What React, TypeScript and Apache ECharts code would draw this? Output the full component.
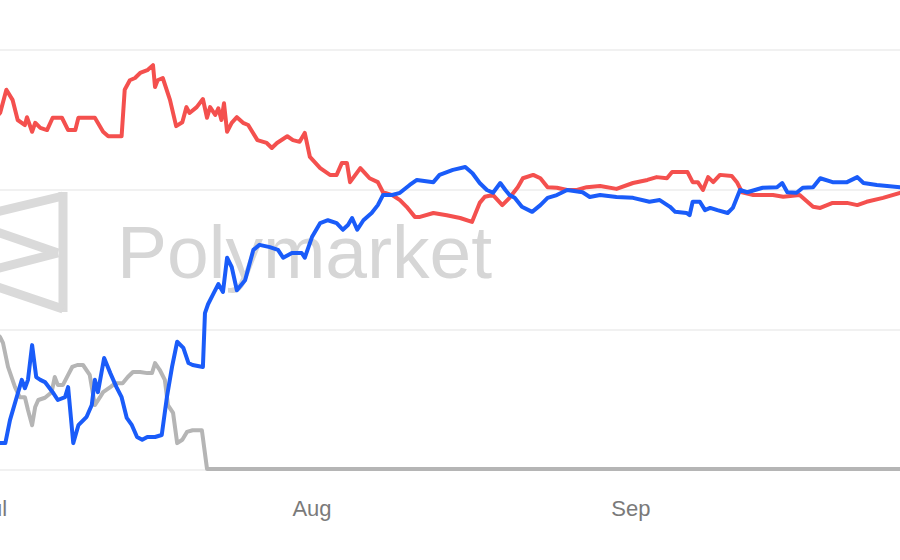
import React, { useEffect, useRef } from "react";
import * as echarts from "echarts";

// x = days since Jul 1, y = chance in %
const MONTH_LABELS = ["Jul", "Aug", "Sep"];
const MONTH_STARTS = [0, 31, 62];
const Y_TICKS = [0, 25, 50, 75, 100];

const TRUMP: [number, number][] = [
  [0, 62.3], [0.7, 63.8], [1.3, 67.9], [1.9, 66.1], [2.4, 62.5], [3.1, 61.6], [3.3, 63.0], [3.8, 60.4],
  [4.1, 62.0], [4.6, 61.1], [5.25, 60.7], [5.8, 62.9], [6.7, 62.9], [7.3, 60.7], [8.0, 60.7], [8.3, 62.9],
  [9.9, 62.9], [10.7, 60.4], [11.2, 59.6], [12.5, 59.6], [12.8, 67.9], [13.3, 69.6], [13.8, 70.0],
  [14.3, 70.9], [15.0, 71.4], [15.55, 72.3], [15.75, 68.4], [16.0, 69.6], [16.5, 70.0], [17.2, 66.1],
  [17.8, 61.4], [18.4, 62.1], [18.8, 64.8], [19.1, 63.75], [19.8, 64.8], [20.4, 66.25], [20.8, 62.9],
  [21.1, 64.8], [21.6, 63.4], [21.9, 64.6], [22.2, 62.5], [22.45, 65.5], [22.75, 60.4], [23.2, 62.0],
  [23.7, 63.0], [24.3, 62.0], [24.8, 61.6], [25.7, 58.9], [26.6, 58.4], [27.1, 57.5], [27.6, 58.4],
  [28.6, 59.6], [29.15, 58.9], [29.8, 58.6], [30.3, 60.2], [30.8, 55.9], [31.8, 53.9], [32.75, 52.7],
  [33.4, 52.7], [33.9, 54.8], [34.4, 54.8], [34.7, 51.4], [35.7, 53.9], [36.15, 53.0], [36.6, 52.1],
  [37.4, 51.4], [37.9, 49.6], [38.8, 49.1], [39.55, 48.2], [40.2, 47.0], [41.0, 45.2], [41.5, 45.2],
  [42.8, 45.9], [44.1, 45.5], [45.4, 45.0], [46.55, 44.3], [47.3, 47.7], [47.8, 48.8], [48.6, 49.1],
  [49.5, 47.3], [50.2, 48.6], [51.0, 50.5], [51.5, 52.1], [52.5, 52.7], [53.2, 52.1], [53.9, 50.5],
  [54.8, 50.4], [55.8, 50.0], [56.75, 50.0], [57.7, 50.5], [59.0, 50.7], [60.6, 50.2], [62.2, 51.25],
  [63.6, 51.8], [64.5, 52.3], [65.5, 52.1], [66.0, 53.2], [67.5, 53.2], [68.0, 51.4], [68.5, 51.4],
  [69.0, 50.0], [69.5, 52.3], [70.0, 51.4], [70.65, 52.7], [71.8, 52.5], [72.3, 51.4], [72.8, 49.6],
  [73.9, 49.1], [75.8, 49.1], [76.8, 48.8], [78.4, 49.1], [79.7, 47.0], [80.4, 46.8], [81.6, 47.7],
  [83.0, 47.7], [84.0, 47.3], [84.9, 47.9], [86.5, 48.6], [88.15, 49.5],
];

const HARRIS: [number, number][] = [
  [0, 4.8], [0.7, 4.8], [1.2, 4.8], [1.65, 8.9], [2.3, 13.0], [2.8, 16.1], [3.1, 14.6], [3.4, 16.1],
  [3.8, 22.3], [4.2, 16.6], [4.6, 16.1], [5.05, 15.7], [5.8, 13.9], [6.3, 12.5], [7.0, 13.0], [7.3, 14.8],
  [7.8, 4.8], [8.3, 8.0], [9.1, 9.5], [9.6, 11.6], [9.9, 16.1], [10.2, 13.9], [10.8, 20.0], [11.4, 17.3],
  [12.0, 14.8], [12.5, 13.0], [13.0, 9.3], [13.5, 8.0], [14.0, 5.9], [14.5, 5.4], [15.0, 5.9],
  [15.75, 5.9], [16.4, 6.25], [16.9, 13.0], [17.4, 18.4], [17.9, 22.9], [18.5, 21.8], [19.0, 19.1],
  [19.4, 18.75], [20.4, 18.4], [20.6, 28.0], [20.9, 29.6], [21.4, 31.4], [21.9, 33.2], [22.35, 31.8],
  [22.75, 37.9], [23.2, 36.25], [23.7, 32.1], [24.5, 33.9], [25.3, 39.3], [25.9, 40.2], [26.9, 39.8],
  [27.7, 39.3], [28.2, 37.9], [29.05, 38.75], [30.0, 38.75], [30.3, 37.9], [31.0, 41.6], [31.8, 44.1],
  [32.55, 44.6], [33.4, 44.1], [34.0, 42.9], [34.5, 43.75], [34.9, 45.0], [35.4, 42.9], [36.0, 44.6],
  [36.8, 45.9], [37.4, 47.3], [37.9, 49.1], [38.8, 49.1], [39.55, 49.5], [40.5, 50.9], [41.2, 51.8],
  [42.8, 51.4], [43.4, 52.7], [44.7, 53.6], [45.9, 54.1], [46.6, 53.0], [47.3, 51.25], [48.0, 50.0],
  [48.6, 49.5], [49.3, 51.25], [49.8, 50.0], [50.2, 49.1], [50.7, 48.6], [51.4, 47.0], [52.4, 46.1],
  [53.2, 47.3], [53.9, 48.6], [54.8, 49.1], [55.8, 50.0], [57.3, 49.6], [58.0, 48.75], [59.0, 49.1],
  [60.6, 48.75], [62.2, 48.6], [63.8, 47.9], [64.8, 48.2], [65.8, 47.0], [66.3, 46.1], [67.4, 45.9],
  [67.7, 45.5], [68.0, 47.9], [68.7, 47.9], [69.2, 46.4], [69.7, 46.8], [70.4, 46.4], [71.4, 45.9],
  [71.9, 46.8], [72.6, 50.0], [73.3, 49.6], [74.8, 50.4], [76.2, 50.5], [76.7, 51.25], [77.2, 49.6],
  [78.1, 49.5], [78.7, 50.4], [79.7, 50.5], [80.4, 52.1], [81.6, 51.4], [83.0, 51.4], [84.0, 52.3],
  [84.6, 51.25], [85.9, 50.9], [88.15, 50.5],
];

const BIDEN: [number, number][] = [
  [0, 25.0], [0.68, 23.75], [0.97, 22.7], [1.46, 18.4], [2.14, 14.8], [2.6, 13.0], [3.1, 13.0],
  [3.4, 10.7], [3.8, 8.0], [4.1, 11.25], [4.4, 12.5], [5.05, 12.9], [5.7, 13.9], [6.0, 16.6],
  [6.3, 15.2], [6.8, 15.2], [7.3, 17.0], [7.7, 18.4], [8.2, 18.75], [8.75, 18.75], [9.4, 17.0],
  [9.9, 11.6], [10.4, 13.0], [10.7, 13.9], [11.4, 14.8], [11.9, 15.5], [12.6, 15.5], [13.1, 16.6],
  [13.6, 17.5], [14.3, 17.5], [15.0, 17.3], [15.45, 17.3], [15.75, 19.1], [16.2, 17.9], [16.7, 16.1],
  [17.0, 11.6], [17.5, 10.2], [17.9, 4.8], [18.4, 5.4], [18.85, 6.8], [19.4, 7.1], [20.3, 7.1],
  [20.8, 0.2], [88.15, 0.2],
];

const X_MAX = 88.15;

export default function App() {
  const ref = useRef<HTMLDivElement>(null);
  useEffect(() => {
    if (!ref.current) return;
    const chart = echarts.init(ref.current, undefined, { renderer: "svg" });
    const line = (name: string, data: [number, number][], color: string, z: number) => ({
      name,
      type: "line",
      data,
      showSymbol: false,
      symbol: "none",
      z,
      lineStyle: { color, width: 4, join: "round", cap: "round" },
      itemStyle: { color },
    });
    chart.setOption({
      animation: false,
      backgroundColor: "#ffffff",
      grid: { left: -7, right: 0, top: -90, bottom: 90, outerBoundsMode: "none", containLabel: false },
      xAxis: {
        type: "value",
        min: 0,
        max: X_MAX,
        axisLine: { show: false },
        axisTick: { show: false },
        splitLine: { show: false },
        axisLabel: {
          customValues: MONTH_STARTS,
          formatter: (v: number) => MONTH_LABELS[MONTH_STARTS.indexOf(Math.round(v))] ?? "",
          color: "#7a7a7a",
          fontSize: 22,
          fontFamily: "Liberation Sans, Arial, sans-serif",
          margin: 27,
        },
      },
      yAxis: {
        type: "value",
        min: Y_TICKS[0],
        max: Y_TICKS[Y_TICKS.length - 1],
        interval: 25,
        axisLine: { show: false },
        axisTick: { show: false },
        axisLabel: { show: false },
        splitLine: { show: true, lineStyle: { color: "#ececec", width: 1.5 } },
      },
      graphic: [
        {
          type: "group",
          z: -10,
          silent: true,
          children: [
            { type: "line", shape: { x1: 63, y1: 192, x2: 63, y2: 312 }, style: { stroke: "#dadada", lineWidth: 9 } },
            { type: "line", shape: { x1: 63, y1: 196, x2: -20, y2: 216 }, style: { stroke: "#dadada", lineWidth: 9 } },
            { type: "line", shape: { x1: -20, y1: 226, x2: 58, y2: 253 }, style: { stroke: "#dadada", lineWidth: 9 } },
            { type: "line", shape: { x1: 58, y1: 253, x2: -20, y2: 273 }, style: { stroke: "#dadada", lineWidth: 9 } },
            { type: "line", shape: { x1: -20, y1: 281, x2: 63, y2: 309 }, style: { stroke: "#dadada", lineWidth: 9 } },
            {
              type: "text",
              x: 117,
              y: 252,
              style: {
                text: "Polymarket",
                fill: "#d6d6d6",
                fontSize: 75,
                fontFamily: "Liberation Sans, Arial, sans-serif",
                fontWeight: "normal",
                verticalAlign: "middle",
                align: "left",
              },
            },
          ],
        },
      ],
      series: [
        line("Biden", BIDEN, "#b5b5b5", 2),
        line("Trump", TRUMP, "#f4504e", 3),
        line("Harris", HARRIS, "#1a5cf9", 4),
      ],
    });
    return () => chart.dispose();
  }, []);
  return (
    <div
      ref={ref}
      style={{ position: "fixed", left: 0, top: 0, width: 900, height: 560, background: "#fff" }}
    />
  );
}
